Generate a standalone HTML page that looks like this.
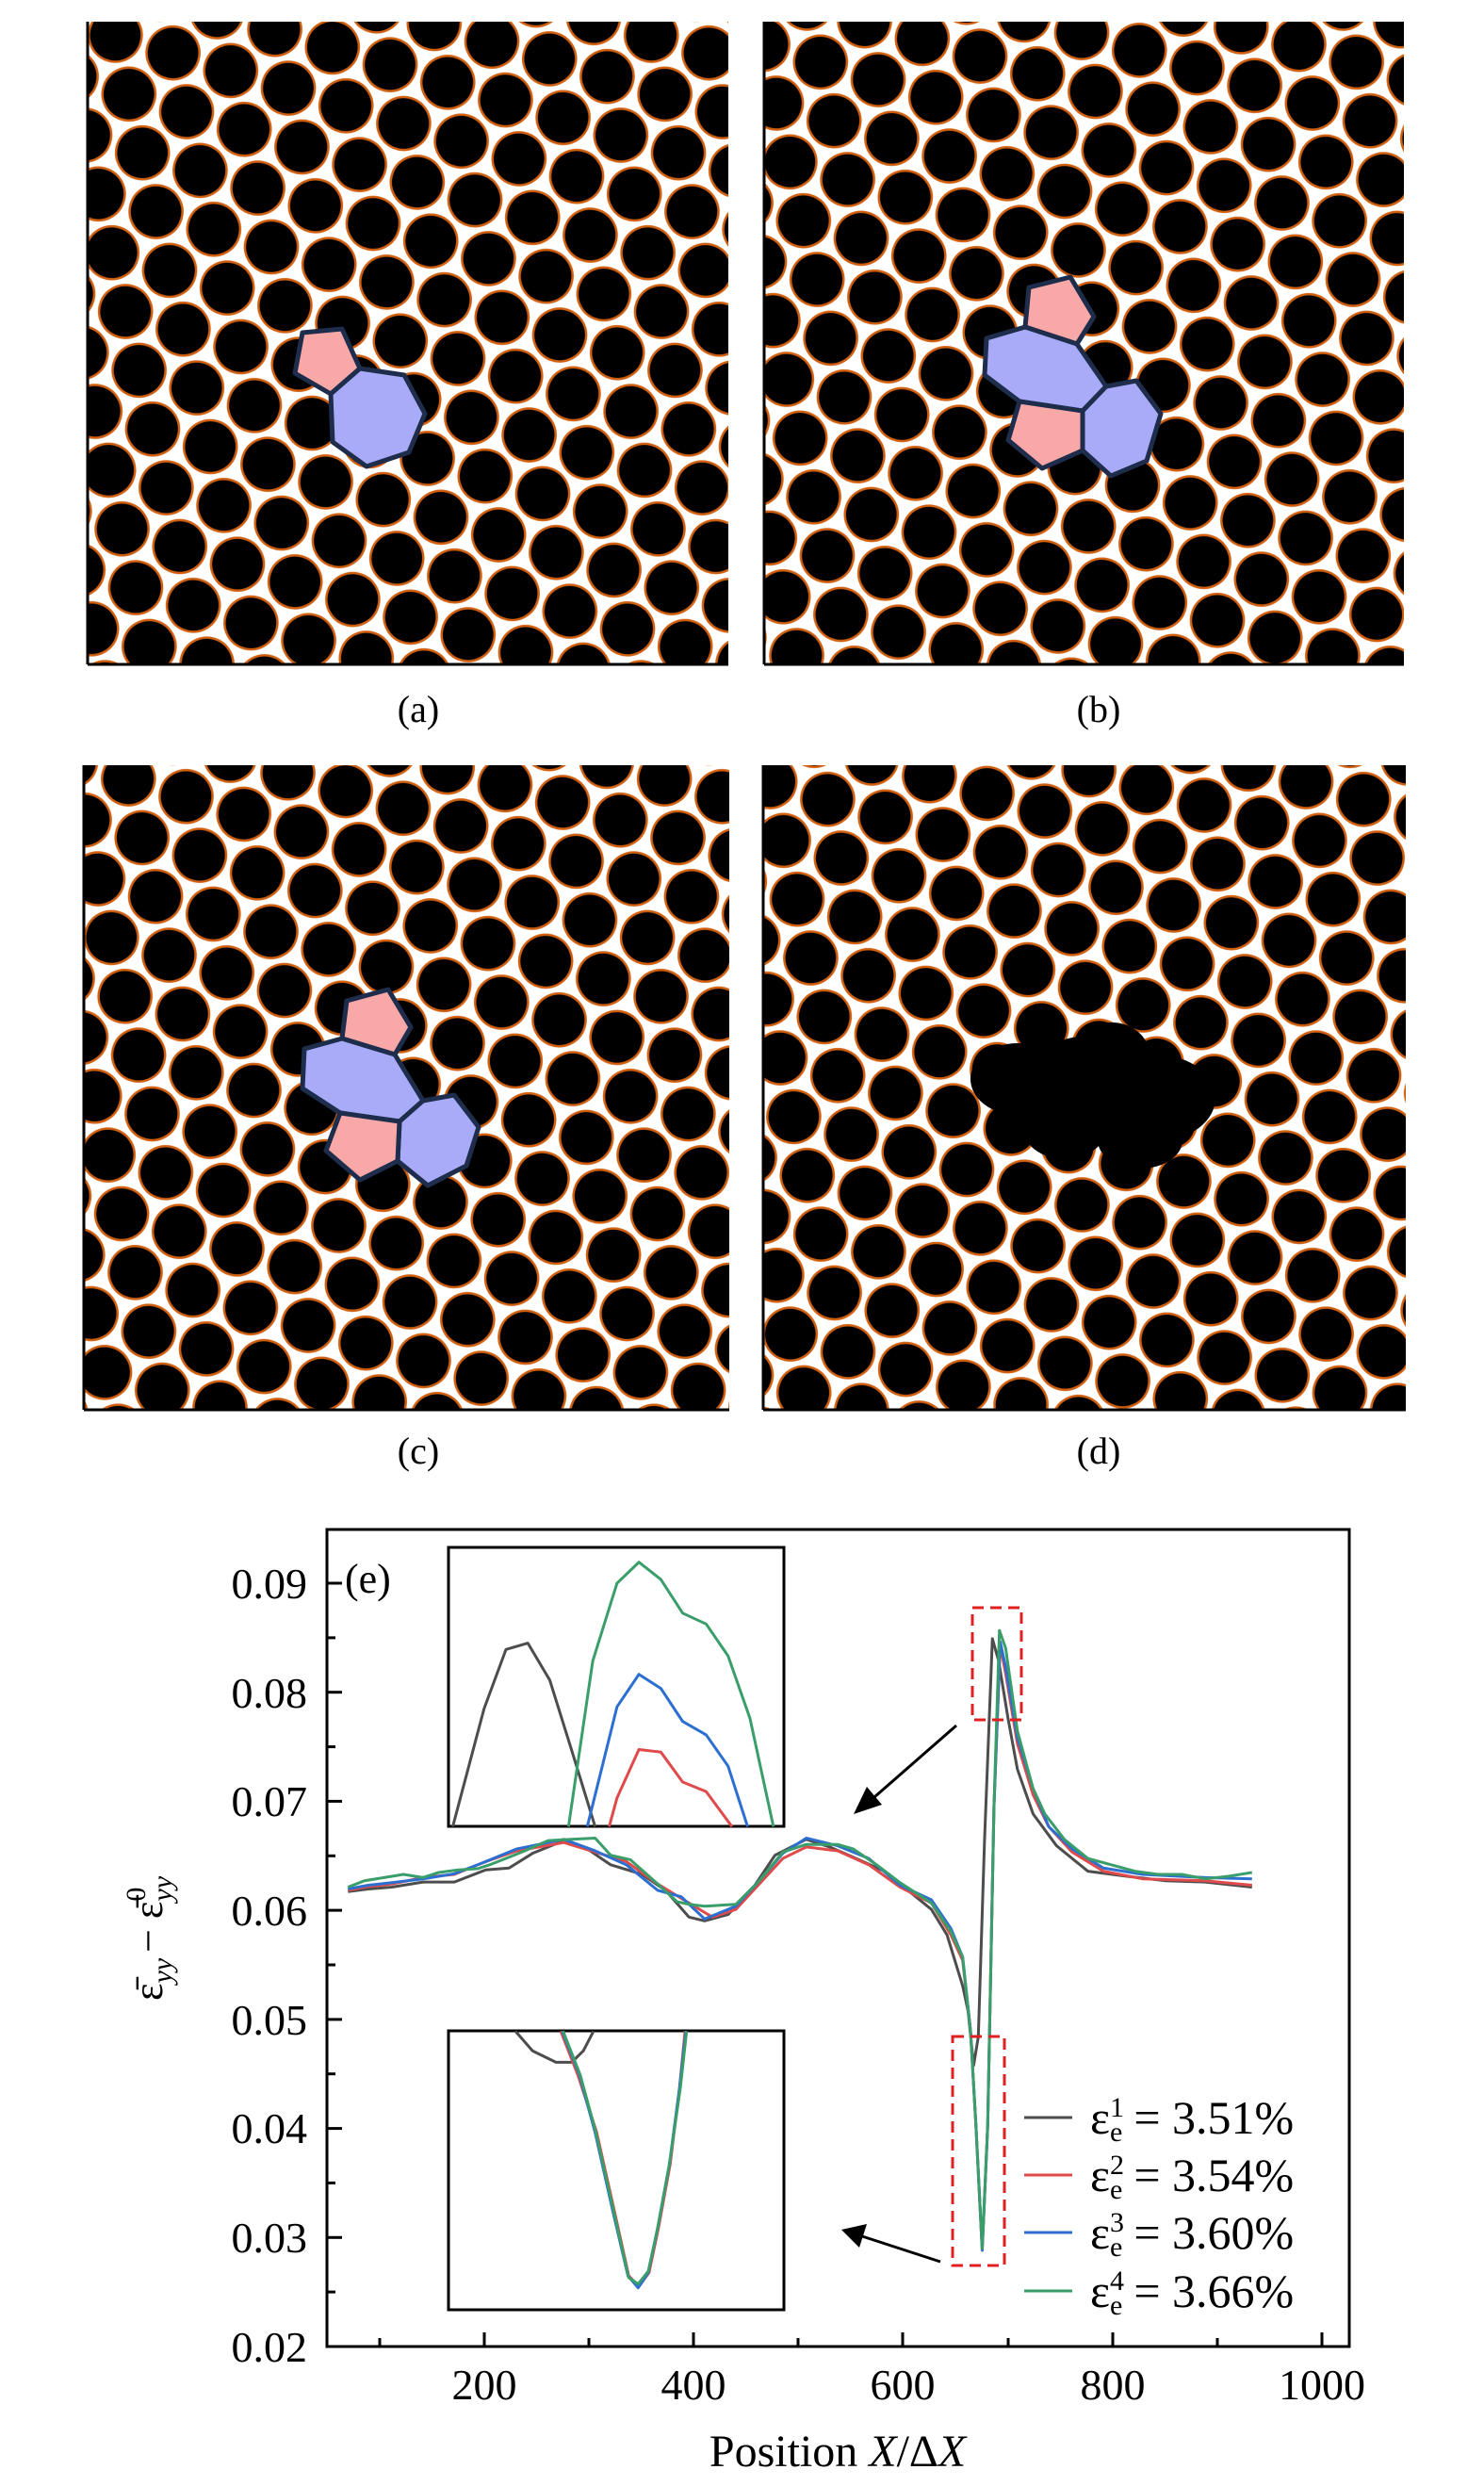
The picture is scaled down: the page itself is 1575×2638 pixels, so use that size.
<!DOCTYPE html>
<html><head><meta charset="utf-8"><style>
html,body{margin:0;padding:0;background:#fff;}
body{width:1575px;height:2638px;position:relative;overflow:hidden;font-family:"Liberation Serif",serif;}
svg{position:absolute;left:0;top:0;}
</style></head><body>
<svg width="1575" height="2638" viewBox="0 0 1575 2638" xmlns="http://www.w3.org/2000/svg" font-family="Liberation Serif, serif">
<defs>
<pattern id="lat" width="64" height="110.85" patternUnits="userSpaceOnUse" patternTransform="rotate(17)">
<rect width="64" height="110.85" fill="#fff"/>
<g fill="#000" stroke="#d06010" stroke-width="2.5">
<circle cx="0" cy="0" r="28"/><circle cx="64" cy="0" r="28"/><circle cx="0" cy="110.85" r="28"/><circle cx="64" cy="110.85" r="28"/><circle cx="32" cy="55.42" r="28"/>
</g>
</pattern>
<pattern id="lat2" width="64" height="110.85" patternUnits="userSpaceOnUse" patternTransform="rotate(17) translate(20,30)">
<rect width="64" height="110.85" fill="#fff"/>
<g fill="#000" stroke="#d06010" stroke-width="2.5">
<circle cx="0" cy="0" r="28"/><circle cx="64" cy="0" r="28"/><circle cx="0" cy="110.85" r="28"/><circle cx="64" cy="110.85" r="28"/><circle cx="32" cy="55.42" r="28"/>
</g>
</pattern>
</defs>
<rect x="93" y="23" width="680" height="682" fill="url(#lat)"/>
<rect x="811" y="23" width="679" height="682" fill="url(#lat2)"/>
<rect x="89" y="812" width="685" height="684" fill="url(#lat2)"/>
<rect x="810" y="812" width="682" height="684" fill="url(#lat)"/>
<g stroke="#000" stroke-width="3" fill="none">
<line x1="93" y1="23" x2="93" y2="705"/><line x1="93" y1="705" x2="773" y2="705"/>
<line x1="811" y1="23" x2="811" y2="705"/><line x1="811" y1="705" x2="1490" y2="705"/>
<line x1="89" y1="812" x2="89" y2="1496"/><line x1="89" y1="1496" x2="774" y2="1496"/>
<line x1="810" y1="812" x2="810" y2="1496"/><line x1="810" y1="1496" x2="1492" y2="1496"/>
</g>
<g fill="#000">
<ellipse cx="1080" cy="1145" rx="50" ry="38"/><ellipse cx="1150" cy="1150" rx="60" ry="50"/><ellipse cx="1230" cy="1165" rx="60" ry="45"/><ellipse cx="1130" cy="1195" rx="45" ry="35"/><ellipse cx="1210" cy="1210" rx="45" ry="30"/><ellipse cx="1180" cy="1120" rx="40" ry="35"/>
</g>
<g stroke="#1f2d4d" stroke-width="5" stroke-linejoin="round">
<polygon fill="#f9a8a8" points="321,353 363,349 382,391 351,418 313,396"/>
<polygon fill="#a9abf8" points="382,391 429,398 451,439 434,480 389,495 353,469 351,418"/>
<polygon fill="#f9a8a8" points="1092,305 1136,294 1161,336 1143,365 1088,347"/>
<polygon fill="#a9abf8" points="1088,347 1143,365 1174,410 1149,436 1082,426 1045,398 1047,359"/>
<polygon fill="#a9abf8" points="1174,410 1206,404 1232,439 1217,489 1179,505 1149,478 1149,436"/>
<polygon fill="#f9a8a8" points="1082,426 1149,436 1149,478 1106,497 1070,467"/>
<polygon fill="#f9a8a8" points="368,1062 412,1050 436,1090 419,1119 363,1102"/>
<polygon fill="#a9abf8" points="363,1102 419,1119 449,1168 424,1190 361,1181 321,1155 323,1113"/>
<polygon fill="#a9abf8" points="449,1168 482,1162 508,1196 495,1237 454,1258 422,1232 424,1190"/>
<polygon fill="#f9a8a8" points="361,1181 424,1190 422,1232 382,1252 346,1221"/>
</g>
<g font-size="40" text-anchor="middle" fill="#000">
<text x="444" y="766">(a)</text><text x="1166" y="766">(b)</text>
<text x="444" y="1553">(c)</text><text x="1166" y="1553">(d)</text>
</g>

<rect x="347" y="1623" width="1085" height="867" fill="none" stroke="#000" stroke-width="3"/>
<g stroke="#000" stroke-width="3">
<line x1="347" y1="1680" x2="363" y2="1680"/><line x1="347" y1="1795.7" x2="363" y2="1795.7"/><line x1="347" y1="1911.4" x2="363" y2="1911.4"/><line x1="347" y1="2027.1" x2="363" y2="2027.1"/><line x1="347" y1="2142.9" x2="363" y2="2142.9"/><line x1="347" y1="2258.6" x2="363" y2="2258.6"/><line x1="347" y1="2374.3" x2="363" y2="2374.3"/>
<line x1="347" y1="1737.9" x2="356" y2="1737.9"/><line x1="347" y1="1853.6" x2="356" y2="1853.6"/><line x1="347" y1="1969.3" x2="356" y2="1969.3"/><line x1="347" y1="2085" x2="356" y2="2085"/><line x1="347" y1="2200.7" x2="356" y2="2200.7"/><line x1="347" y1="2316.4" x2="356" y2="2316.4"/><line x1="347" y1="2432.1" x2="356" y2="2432.1"/>
<line x1="514" y1="2490" x2="514" y2="2475"/><line x1="736" y1="2490" x2="736" y2="2475"/><line x1="958" y1="2490" x2="958" y2="2475"/><line x1="1181" y1="2490" x2="1181" y2="2475"/><line x1="1403" y1="2490" x2="1403" y2="2475"/>
<line x1="403" y1="2490" x2="403" y2="2481"/><line x1="625" y1="2490" x2="625" y2="2481"/><line x1="847" y1="2490" x2="847" y2="2481"/><line x1="1070" y1="2490" x2="1070" y2="2481"/><line x1="1292" y1="2490" x2="1292" y2="2481"/>
</g>
<g font-size="46" text-anchor="end" fill="#000">
<text x="326" y="1696">0.09</text><text x="326" y="1812">0.08</text><text x="326" y="1927">0.07</text><text x="326" y="2043">0.06</text><text x="326" y="2159">0.05</text><text x="326" y="2274">0.04</text><text x="326" y="2390">0.03</text><text x="326" y="2506">0.02</text>
</g>
<g font-size="46" text-anchor="middle" fill="#000">
<text x="514" y="2546">200</text><text x="736" y="2546">400</text><text x="958" y="2546">600</text><text x="1181" y="2546">800</text><text x="1403" y="2546">1000</text>
</g>
<text x="889" y="2617" font-size="48" text-anchor="middle">Position <tspan font-style="italic">X</tspan>/Δ<tspan font-style="italic">X</tspan></text>
<text transform="translate(172,2057) rotate(-90)" font-size="44" text-anchor="middle">ε̄<tspan font-style="italic" font-size="30" dy="10">yy</tspan><tspan dy="-10" dx="6">− ε̄</tspan><tspan font-size="30" dy="-18">0</tspan><tspan font-style="italic" font-size="30" dx="-15" dy="28">yy</tspan></text>
<text x="366" y="1690" font-size="44">(e)</text>

<rect x="476" y="1642" width="356" height="296" fill="#fff" stroke="#000" stroke-width="3"/>
<rect x="476" y="2155" width="356" height="296" fill="#fff" stroke="#000" stroke-width="3"/>
<g transform="matrix(0.83,0,0,0.676,200,1580)" fill="none" stroke-width="3" stroke-linejoin="round">
<polyline vector-effect="non-scaling-stroke" stroke="#4d4d4d" points="338,530 378,345 406,252 434,242 462,300 490,410 520,530"/>
<polyline vector-effect="non-scaling-stroke" stroke="#3a9e6a" points="486,530 517,270 548,148 576,115 604,142 632,195 662,212 690,262 718,360 748,530"/>
<polyline vector-effect="non-scaling-stroke" stroke="#2c6fd1" points="510,530 548,342 576,291 604,313 632,365 662,386 690,435 715,530"/>
<polyline vector-effect="non-scaling-stroke" stroke="#e04a4a" points="538,530 548,485 576,409 604,413 632,460 662,475 695,530"/>
<polyline vector-effect="non-scaling-stroke" stroke="#4d4d4d" points="418,851 440,882 470,900 490,900 505,882 518,851"/>
<polyline vector-effect="non-scaling-stroke" stroke="#e04a4a" points="476,851 498,920 522,1010 544,1130 563,1235 576,1252 589,1230 601,1160 616,1060 628,940 635,851"/>
<polyline vector-effect="non-scaling-stroke" stroke="#2c6fd1" points="478,851 500,920 520,1010 542,1130 562,1235 575,1254 588,1230 600,1160 615,1060 628,940 636,851"/>
<polyline vector-effect="non-scaling-stroke" stroke="#3a9e6a" points="479,851 501,920 521,1010 543,1130 563,1238 575,1248 588,1228 600,1160 615,1060 629,940 637,851"/>

<polyline vector-effect="non-scaling-stroke" stroke="#4d4d4d" points="204,632 230,628 260,625 300,617 340,617 380,598 410,595 440,572 480,552 510,565 540,590 580,605 610,630 640,672 660,678 690,668 720,630 750,575 790,550 820,562 850,578 890,600 920,630 950,660 970,700 990,780 997,820 1004,905 1010,860 1018,550 1028,235 1036,270 1048,360 1060,440 1080,510 1110,560 1150,600 1200,608 1250,615 1300,617 1360,625"/>
<polyline vector-effect="non-scaling-stroke" stroke="#e04a4a" points="204,630 230,624 260,620 300,610 340,605 380,585 420,568 480,555 520,570 560,585 600,620 640,650 670,672 700,660 730,620 760,580 790,562 830,568 870,590 910,625 950,650 975,700 990,740 1000,850 1007,1000 1015,1195 1022,1000 1030,500 1038,245 1045,290 1060,400 1080,480 1100,530 1130,570 1170,600 1220,612 1300,615 1360,622"/>
<polyline vector-effect="non-scaling-stroke" stroke="#2c6fd1" points="204,628 230,622 260,618 300,612 340,604 380,585 420,565 480,550 520,568 560,590 600,630 630,640 660,675 700,655 730,615 760,572 790,548 830,560 870,580 910,622 950,645 975,690 990,735 1000,850 1007,1000 1015,1195 1022,1000 1030,500 1038,240 1045,280 1060,390 1080,470 1100,530 1130,565 1170,595 1220,605 1300,610 1360,612"/>
<polyline vector-effect="non-scaling-stroke" stroke="#3a9e6a" points="204,625 225,615 250,610 275,605 300,610 320,602 345,598 370,596 385,590 410,578 430,568 460,552 490,550 520,548 540,575 565,582 600,620 625,648 640,652 660,655 700,652 730,615 760,570 790,558 830,558 850,565 880,590 910,618 950,650 975,695 990,735 1000,850 1007,1000 1015,1192 1022,1000 1030,500 1037,222 1045,250 1060,380 1080,470 1095,510 1120,550 1150,580 1180,590 1210,600 1240,605 1270,605 1300,612 1330,608 1360,602"/>
</g>
<g fill="none" stroke="#e02020" stroke-width="3" stroke-dasharray="12,7">
<rect x="1032" y="1706" width="52" height="119"/>
<rect x="1011" y="2161" width="55" height="243"/>
</g>
<g stroke="#000" stroke-width="3">
<line x1="1015" y1="1831" x2="928" y2="1907"/>
<line x1="998" y1="2400" x2="915" y2="2373"/>
</g>
<polygon points="906,1925 920,1896 936,1915" fill="#000"/>
<polygon points="893,2366 920,2360 912,2385" fill="#000"/>
<g stroke-width="3">
<line x1="1087" y1="2247" x2="1138" y2="2247" stroke="#4d4d4d"/>
<line x1="1087" y1="2308" x2="1138" y2="2308" stroke="#e04a4a"/>
<line x1="1087" y1="2369" x2="1138" y2="2369" stroke="#2c6fd1"/>
<line x1="1087" y1="2431" x2="1138" y2="2431" stroke="#3a9e6a"/>
</g>
<g font-size="50" fill="#000">
<text x="1157" y="2264">ε<tspan font-size="30" dy="-18">1</tspan><tspan font-size="30" dx="-15" dy="26">e</tspan><tspan dy="-8" dx="12">= 3.51%</tspan></text>
<text x="1157" y="2325">ε<tspan font-size="30" dy="-18">2</tspan><tspan font-size="30" dx="-15" dy="26">e</tspan><tspan dy="-8" dx="12">= 3.54%</tspan></text>
<text x="1157" y="2386">ε<tspan font-size="30" dy="-18">3</tspan><tspan font-size="30" dx="-15" dy="26">e</tspan><tspan dy="-8" dx="12">= 3.60%</tspan></text>
<text x="1157" y="2448">ε<tspan font-size="30" dy="-18">4</tspan><tspan font-size="30" dx="-15" dy="26">e</tspan><tspan dy="-8" dx="12">= 3.66%</tspan></text>
</g>
</svg>
</body></html>
